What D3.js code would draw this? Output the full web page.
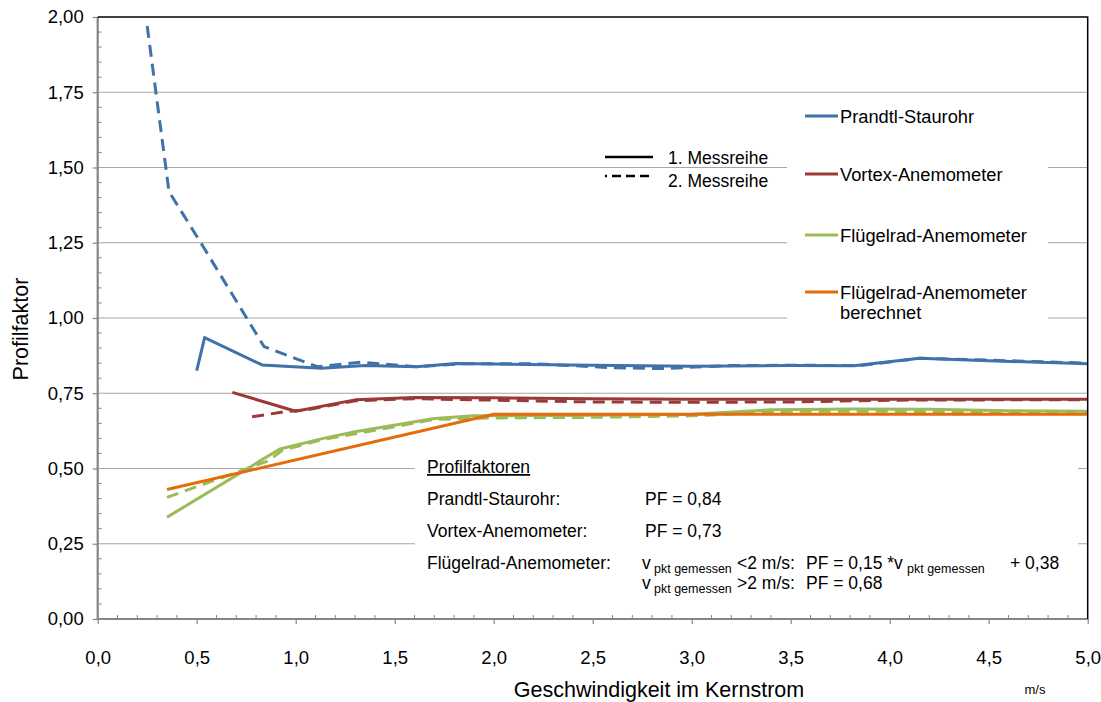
<!DOCTYPE html>
<html>
<head>
<meta charset="utf-8">
<script src="https://cdn.jsdelivr.net/npm/d3@7"></script>
<style>
  html, body { margin: 0; padding: 0; background: #fff; }
  svg { display: block; font-family: "Liberation Sans", Arial, sans-serif; }
</style>
</head>
<body>
<svg id="chart" width="1101" height="702"></svg>
<script>
// ---------------- data ----------------
const xTicks = [0, 0.5, 1, 1.5, 2, 2.5, 3, 3.5, 4, 4.5, 5];
const xTickLabels = ["0,0","0,5","1,0","1,5","2,0","2,5","3,0","3,5","4,0","4,5","5,0"];
const yTicks = [0, 0.25, 0.5, 0.75, 1, 1.25, 1.5, 1.75, 2];
const yTickLabels = ["0,00","0,25","0,50","0,75","1,00","1,25","1,50","1,75","2,00"];

const seriesNames = ["Prandtl-Staurohr", "Vortex-Anemometer", "Flügelrad-Anemometer", "Flügelrad-Anemometer berechnet"];
const seriesColors = ["#4171ab", "#9b3936", "#9bbb59", "#e46c0a"];

// Prandtl-Staurohr
const prandtl1V  = [0.50, 0.54, 0.83, 1.13, 1.35, 1.61, 1.81, 2.0, 2.5, 3.0, 3.5, 3.82, 4.15, 4.5, 5.0];
const prandtl1PF = [0.825, 0.935, 0.844, 0.833, 0.842, 0.838, 0.849, 0.847, 0.843, 0.840, 0.842, 0.841, 0.866, 0.858, 0.848];
const prandtl2V  = [0.25, 0.36, 0.53, 0.84, 1.11, 1.33, 1.61, 1.85, 2.2, 2.6, 2.85, 3.2, 3.5, 3.85, 4.15, 4.5, 5.0];
const prandtl2PF = [1.97, 1.42, 1.24, 0.905, 0.838, 0.853, 0.838, 0.848, 0.848, 0.835, 0.832, 0.842, 0.843, 0.842, 0.866, 0.860, 0.850];

// Vortex-Anemometer
const vortex1V  = [0.68, 1.0, 1.3, 1.6, 2.0, 2.5, 3.0, 3.5, 4.0, 4.5, 5.0];
const vortex1PF = [0.753, 0.690, 0.728, 0.736, 0.735, 0.732, 0.730, 0.730, 0.730, 0.730, 0.730];
const vortex2V  = [0.78, 0.96, 1.06, 1.3, 1.6, 2.0, 2.5, 3.0, 3.5, 4.0, 4.5, 5.0];
const vortex2PF = [0.672, 0.690, 0.695, 0.725, 0.732, 0.727, 0.721, 0.720, 0.721, 0.727, 0.728, 0.728];

// Flügelrad-Anemometer
const fluegel1V  = [0.35, 0.92, 1.14, 1.3, 1.7, 1.9, 2.0, 2.5, 3.0, 3.4, 3.8, 4.2, 4.6, 5.0];
const fluegel1PF = [0.338, 0.565, 0.600, 0.622, 0.666, 0.675, 0.675, 0.677, 0.680, 0.695, 0.698, 0.697, 0.692, 0.690];
const fluegel2V  = [0.35, 0.86, 0.93, 1.14, 1.3, 1.7, 2.0, 2.5, 3.0, 3.5, 4.0, 4.5, 5.0];
const fluegel2PF = [0.404, 0.525, 0.560, 0.597, 0.615, 0.663, 0.668, 0.670, 0.675, 0.690, 0.690, 0.688, 0.686];

// Flügelrad-Anemometer berechnet
const berechnetV  = [0.35, 2.0, 2.5, 3.0, 3.5, 4.0, 4.5, 5.0];
const berechnetPF = [0.43, 0.68, 0.68, 0.68, 0.68, 0.68, 0.68, 0.68];

// ---------------- layout ----------------
const svg = d3.select("#chart");
const X0 = 97.7, X1 = 1087.7, Y0 = 619, Y1 = 17;
const x = d3.scaleLinear().domain([0, 5]).range([X0, X1]);
const y = d3.scaleLinear().domain([0, 2]).range([Y0, Y1]);

// gridlines
svg.append("g").selectAll("line").data(yTicks.slice(1, -1)).join("line")
  .attr("x1", X0).attr("x2", X1)
  .attr("y1", d => y(d)).attr("y2", d => y(d))
  .attr("stroke", "#a6a6a6").attr("stroke-width", 1.2);

// white boxes (legend & annotation) covering gridlines
svg.append("rect").attr("x", 787).attr("y", 96).attr("width", 261).attr("height", 232).attr("fill", "#fff");
svg.append("rect").attr("x", 415).attr("y", 452).attr("width", 663).attr("height", 150).attr("fill", "#fff");

// series
const line = d3.line().x(d => x(d[0])).y(d => y(d[1]));
const zip = (a, b) => a.map((v, i) => [v, b[i]]);
const series = [
  {v: prandtl1V, p: prandtl1PF, c: 0, dash: null},
  {v: prandtl2V, p: prandtl2PF, c: 0, dash: "12,7"},
  {v: vortex1V, p: vortex1PF, c: 1, dash: null},
  {v: vortex2V, p: vortex2PF, c: 1, dash: "12,7"},
  {v: fluegel1V, p: fluegel1PF, c: 2, dash: null},
  {v: fluegel2V, p: fluegel2PF, c: 2, dash: "12,7"},
  {v: berechnetV, p: berechnetPF, c: 3, dash: null}
];
svg.append("g").selectAll("path").data(series).join("path")
  .attr("d", s => line(zip(s.v, s.p)))
  .attr("fill", "none")
  .attr("stroke", s => seriesColors[s.c])
  .attr("stroke-width", 3)
  .attr("stroke-linejoin", "round")
  .attr("stroke-dasharray", s => s.dash);

// axes
const yAxis = d3.axisLeft(y).tickValues(yTicks).tickSize(5).tickFormat((d, i) => yTickLabels[i]).tickPadding(9);
const gy = svg.append("g").attr("transform", `translate(${X0},0)`).call(yAxis);
const yMinor = d3.range(0, 2.0001, 0.05).filter(v => Math.abs(v / 0.25 - Math.round(v / 0.25)) > 1e-6);
svg.append("g").selectAll("line").data(yMinor).join("line")
  .attr("x1", X0).attr("x2", X0 + 4).attr("y1", d => y(d)).attr("y2", d => y(d))
  .attr("stroke", "#868686").attr("stroke-width", 1);

const xAxis = d3.axisBottom(x).tickValues(xTicks).tickSize(5).tickFormat((d, i) => xTickLabels[i]).tickPadding(27);
const gx = svg.append("g").attr("transform", `translate(0,${Y0})`).call(xAxis);
const xMinor = d3.range(0.1, 5.0001, 0.1).filter(v => Math.abs(v / 0.5 - Math.round(v / 0.5)) > 1e-6);
svg.append("g").selectAll("line").data(xMinor).join("line")
  .attr("x1", d => x(d)).attr("x2", d => x(d)).attr("y1", Y0).attr("y2", Y0 - 4)
  .attr("stroke", "#868686").attr("stroke-width", 1);

[gy, gx].forEach(g => {
  g.select(".domain").attr("stroke", "#868686").attr("stroke-width", 2.2);
  g.selectAll(".tick line").attr("stroke", "#868686").attr("stroke-width", 1.2);
  g.selectAll(".tick text").attr("fill", "#000").attr("font-size", 18.5)
    .attr("font-family", "Liberation Sans, Arial, sans-serif");
});
gx.select(".domain").attr("d", `M${X0},0H${X1}`);
gy.select(".domain").attr("d", `M0,${Y0}V${Y1}`);

// top / right border
svg.append("path").attr("d", `M${X0},${Y1}H${X1}V${Y0}`).attr("fill", "none")
  .attr("stroke", "#000").attr("stroke-width", 1.5);

// axis titles
svg.append("text").attr("transform", "translate(28,329) rotate(-90)").attr("text-anchor", "middle")
  .attr("font-size", 21.5).text("Profilfaktor");
svg.append("text").attr("x", 659).attr("y", 697).attr("text-anchor", "middle")
  .attr("font-size", 21.5).text("Geschwindigkeit im Kernstrom");
svg.append("text").attr("x", 1035).attr("y", 694).attr("text-anchor", "middle")
  .attr("font-size", 13).text("m/s");

// series legend
const leg = svg.append("g");
const legY = [116, 174, 235, 292];
seriesNames.forEach((n, i) => {
  leg.append("line").attr("x1", 805).attr("x2", 838).attr("y1", legY[i]).attr("y2", legY[i])
    .attr("stroke", seriesColors[i]).attr("stroke-width", 3);
  const t = leg.append("text").attr("x", 840).attr("y", legY[i] + 6.5).attr("font-size", 18.3);
  if (i === 3) {
    t.append("tspan").attr("x", 840).text("Flügelrad-Anemometer");
    t.append("tspan").attr("x", 840).attr("dy", 20).text("berechnet");
  } else t.text(n);
});

// Messreihe legend
svg.append("line").attr("x1", 605).attr("x2", 653).attr("y1", 157).attr("y2", 157)
  .attr("stroke", "#000").attr("stroke-width", 2.5);
svg.append("line").attr("x1", 605).attr("x2", 653).attr("y1", 176).attr("y2", 176)
  .attr("stroke", "#000").attr("stroke-width", 2.5)
  .attr("stroke-dasharray", "9,5").attr("stroke-dashoffset", 7);
svg.append("text").attr("x", 668).attr("y", 164).attr("font-size", 17.5).text("1. Messreihe");
svg.append("text").attr("x", 668).attr("y", 187).attr("font-size", 17.5).text("2. Messreihe");

// annotation
const ann = svg.append("g").attr("font-size", 17.5);
ann.append("text").attr("x", 427).attr("y", 473).attr("text-decoration", "underline").text("Profilfaktoren");
ann.append("text").attr("x", 427).attr("y", 505).text("Prandtl-Staurohr:");
ann.append("text").attr("x", 645).attr("y", 505).text("PF = 0,84");
ann.append("text").attr("x", 427).attr("y", 537).text("Vortex-Anemometer:");
ann.append("text").attr("x", 645).attr("y", 537).text("PF = 0,73");
ann.append("text").attr("x", 427).attr("y", 569).text("Flügelrad-Anemometer:");
function formulaLine(yy, parts) {
  parts.forEach(p => {
    ann.append("text").attr("x", p[0]).attr("y", yy + (p[2] ? 4 : 0))
      .attr("font-size", p[2] ? 12.5 : 17.5).text(p[1]);
  });
}
formulaLine(569, [[642, "v"], [654, "pkt gemessen", true], [737, "<2 m/s:"], [806, "PF = 0,15 *v"], [907, "pkt gemessen", true], [1010, "+ 0,38"]]);
formulaLine(589, [[642, "v"], [654, "pkt gemessen", true], [737, ">2 m/s:"], [806, "PF = 0,68"]]);
</script>
</body>
</html>
